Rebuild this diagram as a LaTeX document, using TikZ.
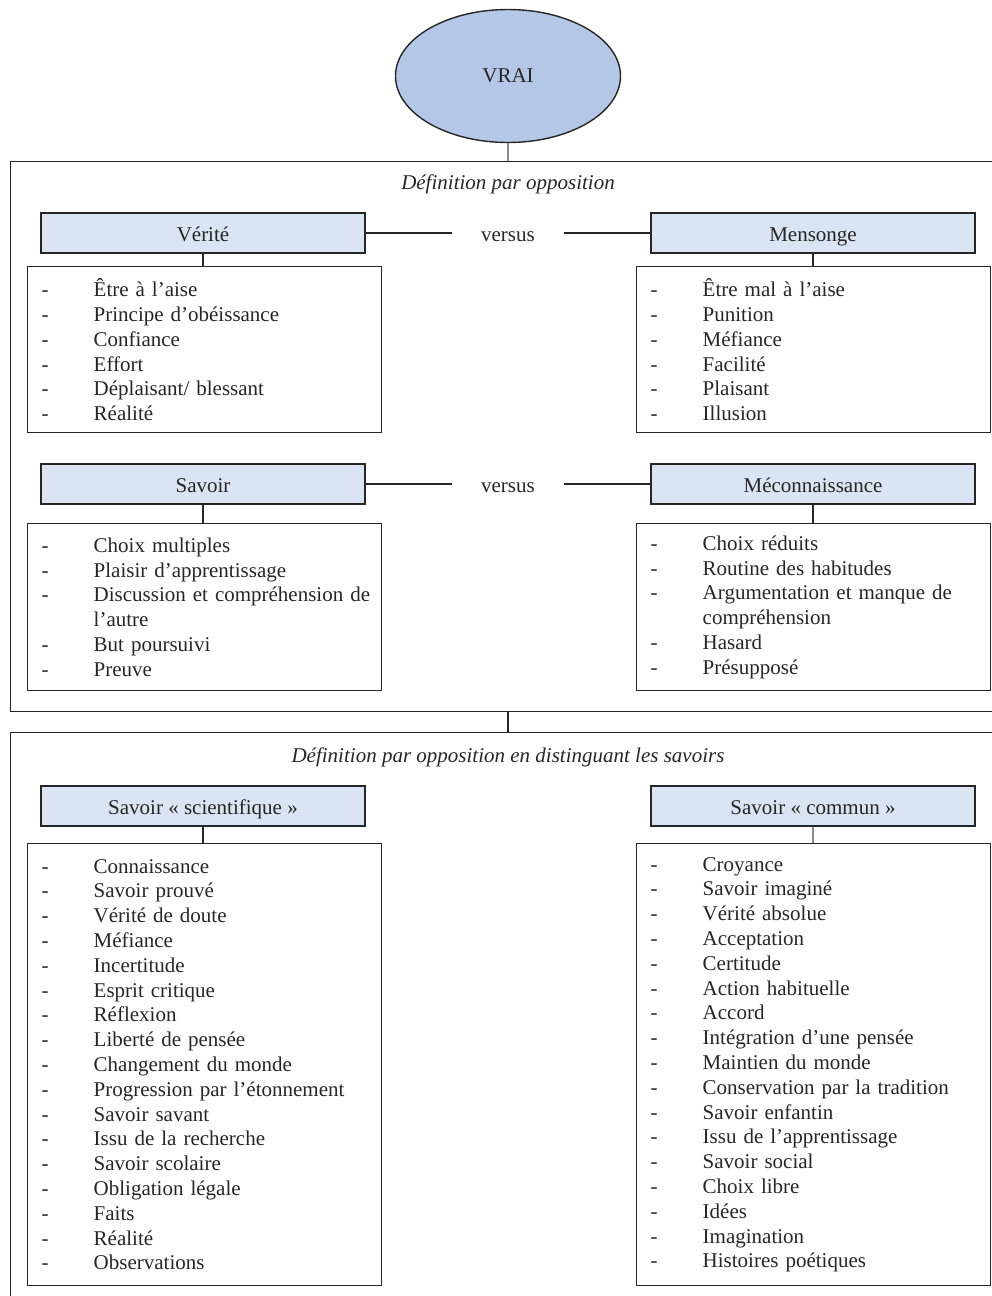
\documentclass[tikz,border=0pt]{standalone}
\usepackage{fontspec}
\setmainfont{Liberation Serif}
\usepackage{tikz}
\usetikzlibrary{shapes.geometric,positioning,calc}
\definecolor{vrEllipse}{RGB}{180,199,231}
\definecolor{vrHead}{RGB}{219,228,243}
\definecolor{vrInk}{HTML}{262626}
\definecolor{vrGrey}{HTML}{8C8C8C}
\newcommand{\tiret}{\makebox[52pt][l]{-}}
\newcommand{\suite}{\hspace*{52pt}}
\tikzset{
    vrBase/.style={
        draw=vrInk,
        line width=1.4pt,
        text=vrInk,
        font=\fontsize{21}{24.8}\selectfont,
        inner sep=0pt
    },
    vrVrai/.style={vrBase, ellipse, fill=vrEllipse, minimum width=225pt, minimum height=133pt},
    vrHeader/.style={vrBase, rectangle, fill=vrHead, minimum width=324pt, minimum height=40pt, text height=17pt, text depth=1pt},
    vrList/.style={vrBase, rectangle, anchor=north west, text width=326pt, inner xsep=14pt, align=left, minimum width=354pt},
    % Frames and labels
    vrFrame/.style={rectangle, draw=vrInk, line width=1.4pt, anchor=north west, minimum width=1010pt, inner sep=0pt},
    vrTitle/.style={font=\fontsize{21}{24.8}\selectfont\itshape, text=vrInk, inner sep=0pt},
    vrVersus/.style={font=\fontsize{21}{24.8}\selectfont, text=vrInk, minimum width=111pt, inner sep=0pt, text height=17pt, text depth=1pt},
    % Lines
    vrLink/.style={draw=vrInk, line width=1.1pt}
}

\begin{document}
\begin{tikzpicture}[x=1pt, y=-1pt]
    \useasboundingbox (0,0) rectangle (992,1296);
    \clip (0,0) rectangle (992,1296);

    \node[vrVrai] (vrai) at (508,76) {VRAI};

    \node[vrFrame, minimum height=550pt] (cadreA) at (10,161) {};
    \node[vrFrame, minimum height=600pt] (cadreB) at (10,732) {};

    \draw[vrLink, draw=vrGrey] (vrai.south) -- (vrai.south |- cadreA.north);
    \draw[vrLink] (cadreA.south -| vrai) -- (cadreB.north -| vrai);

    \node[vrTitle] (titreA) at (508,184) {Définition par opposition};
    \node[vrTitle] (titreB) at (508,757) {Définition par opposition en distinguant les savoirs};

    % Verite / Mensonge
    \node[vrHeader] (verite) at (203,233) {Vérité};
    \node[vrHeader] (mensonge) at (813,233) {Mensonge};
    \node[vrVersus] (versusA) at (508,233) {versus};
    \draw[vrLink] (verite.east) -- (versusA.west);
    \draw[vrLink] (versusA.east) -- (mensonge.west);

    \node[vrList, minimum height=166pt] (veriteList) at (27,266) {\tiret Être à l’aise\\
    \tiret Principe d’obéissance\\
    \tiret Confiance\\
    \tiret Effort\\
    \tiret Déplaisant/ blessant\\
    \tiret Réalité};
    \node[vrList, minimum height=166pt] (mensongeList) at (636,266) {\tiret Être mal à l’aise\\
    \tiret Punition\\
    \tiret Méfiance\\
    \tiret Facilité\\
    \tiret Plaisant\\
    \tiret Illusion};
    \draw[vrLink] (verite.south) -- (verite.south |- veriteList.north);
    \draw[vrLink] (mensonge.south) -- (mensonge.south |- mensongeList.north);

    % Savoir / Meconnaissance
    \node[vrHeader] (savoir) at (203,484) {Savoir};
    \node[vrHeader] (meconnaissance) at (813,484) {Méconnaissance};
    \node[vrVersus] (versusB) at (508,484) {versus};
    \draw[vrLink] (savoir.east) -- (versusB.west);
    \draw[vrLink] (versusB.east) -- (meconnaissance.west);

    \node[vrList, minimum height=167pt] (savoirList) at (27,523) {\tiret Choix multiples\\
    \tiret Plaisir d’apprentissage\\
    \tiret \mbox{Discussion et compréhension de}\\
    \suite l’autre\\
    \tiret But poursuivi\\
    \tiret Preuve};
    \node[vrList, minimum height=167pt] (meconnaissanceList) at (636,523) {\tiret Choix réduits\\
    \tiret Routine des habitudes\\
    \tiret \mbox{Argumentation et manque de}\\
    \suite compréhension\\
    \tiret Hasard\\
    \tiret Présupposé};
    \draw[vrLink] (savoir.south) -- (savoir.south |- savoirList.north);
    \draw[vrLink] (meconnaissance.south) -- (meconnaissance.south |- meconnaissanceList.north);

    % Savoir scientifique / commun
    \node[vrHeader] (scientifique) at (203,806) {Savoir « scientifique »};
    \node[vrHeader] (commun) at (813,806) {Savoir « commun »};

    \node[vrList, minimum height=442pt] (scientifiqueList) at (27,843) {\tiret Connaissance\\
    \tiret Savoir prouvé\\
    \tiret Vérité de doute\\
    \tiret Méfiance\\
    \tiret Incertitude\\
    \tiret Esprit critique\\
    \tiret Réflexion\\
    \tiret Liberté de pensée\\
    \tiret Changement du monde\\
    \tiret Progression par l’étonnement\\
    \tiret Savoir savant\\
    \tiret Issu de la recherche\\
    \tiret Savoir scolaire\\
    \tiret Obligation légale\\
    \tiret Faits\\
    \tiret Réalité\\
    \tiret Observations};
    \node[vrList, minimum height=442pt] (communList) at (636,843) {\tiret Croyance\\
    \tiret Savoir imaginé\\
    \tiret Vérité absolue\\
    \tiret Acceptation\\
    \tiret Certitude\\
    \tiret Action habituelle\\
    \tiret Accord\\
    \tiret Intégration d’une pensée\\
    \tiret Maintien du monde\\
    \tiret Conservation par la tradition\\
    \tiret Savoir enfantin\\
    \tiret Issu de l’apprentissage\\
    \tiret Savoir social\\
    \tiret Choix libre\\
    \tiret Idées\\
    \tiret Imagination\\
    \tiret Histoires poétiques};
    \draw[vrLink] (scientifique.south) -- (scientifique.south |- scientifiqueList.north);
    \draw[vrLink, draw=vrGrey] (commun.south) -- (commun.south |- communList.north);
\end{tikzpicture}
\end{document}
